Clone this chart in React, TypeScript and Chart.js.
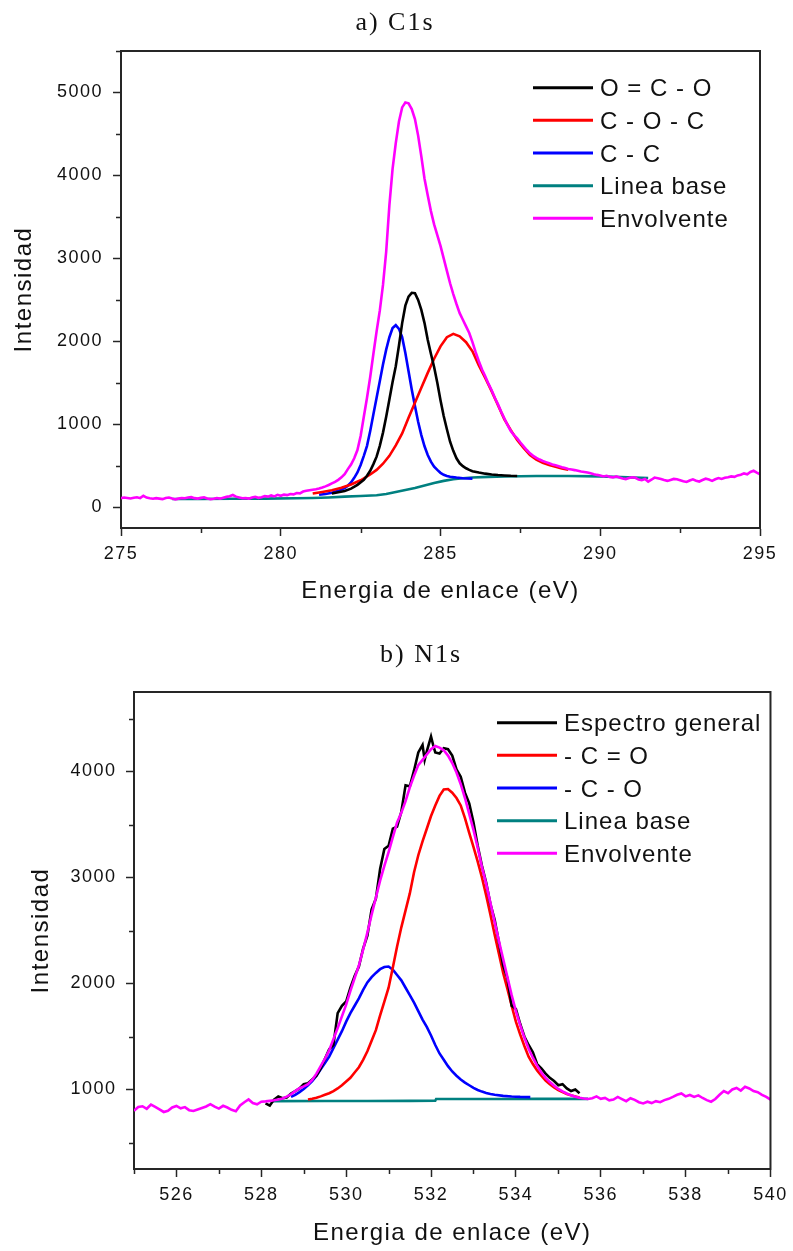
import React, { useEffect, useRef } from "react";
import { Chart, registerables } from "chart.js";

Chart.register(...registerables);

type Pt = [number, number];

// ---------- a) C1s ----------
const c1sLabels = ["O = C - O", "C - O - C", "C - C", "Linea base", "Envolvente"];
const c1sColors = ["#000000", "#ff0000", "#0000ff", "#008080", "#ff00ff"];
const c1sXTicks = [275, 280, 285, 290, 295];
const c1sXMinor = [277.5, 282.5, 287.5, 292.5];
const c1sYTicks = [0, 1000, 2000, 3000, 4000, 5000];
const c1sYMinor = [500, 1500, 2500, 3500, 4500, 5500];

const c1sOCO: Pt[] = [
  [281.6, 165], [281.8, 180], [282.0, 195], [282.2, 225], [282.4, 270], [282.6, 330], [282.7, 380],
  [282.8, 440], [282.9, 520], [283.0, 610], [283.1, 740], [283.2, 900], [283.3, 1090], [283.4, 1300],
  [283.5, 1510], [283.6, 1700], [283.7, 1950], [283.8, 2220], [283.9, 2430], [284.0, 2540], [284.1, 2585],
  [284.2, 2580], [284.3, 2500], [284.4, 2380], [284.5, 2220], [284.6, 2020], [284.7, 1850], [284.8, 1690],
  [284.9, 1500], [285.0, 1290], [285.1, 1100], [285.2, 940], [285.3, 790], [285.4, 680], [285.5, 590],
  [285.6, 530], [285.7, 495], [285.8, 470], [285.9, 450], [286.0, 435], [286.2, 418], [286.4, 405],
  [286.6, 395], [286.8, 388], [287.0, 383], [287.2, 379], [287.4, 377],
];

const c1sCOC: Pt[] = [
  [281.0, 165], [281.3, 185], [281.6, 205], [281.9, 235], [282.2, 275], [282.5, 325], [282.8, 395],
  [283.0, 450], [283.2, 525], [283.4, 620], [283.6, 745], [283.8, 890], [284.0, 1080], [284.2, 1260],
  [284.4, 1440], [284.6, 1620], [284.8, 1790], [285.0, 1940], [285.2, 2050], [285.4, 2090], [285.6, 2060],
  [285.8, 1990], [286.0, 1880], [286.2, 1710], [286.4, 1560], [286.6, 1400], [286.8, 1230], [287.0, 1060],
  [287.2, 930], [287.4, 810], [287.6, 715], [287.8, 630], [288.0, 575], [288.2, 535], [288.4, 508],
  [288.6, 488], [288.8, 468], [289.0, 452],
];

const c1sCC: Pt[] = [
  [281.2, 150], [281.4, 160], [281.6, 175], [281.8, 198], [282.0, 230], [282.1, 260], [282.2, 300],
  [282.3, 355], [282.4, 420], [282.5, 510], [282.6, 620], [282.7, 740], [282.8, 920], [282.9, 1120],
  [283.0, 1320], [283.1, 1520], [283.2, 1720], [283.3, 1900], [283.4, 2050], [283.5, 2160], [283.6, 2195],
  [283.7, 2150], [283.8, 2050], [283.9, 1860], [284.0, 1640], [284.1, 1420], [284.2, 1220], [284.3, 1030],
  [284.4, 870], [284.5, 735], [284.6, 630], [284.7, 550], [284.8, 490], [284.9, 450], [285.0, 415],
  [285.1, 392], [285.2, 378], [285.3, 368], [285.5, 358], [285.7, 350], [286.0, 345],
];

const c1sBase: Pt[] = [
  [276.6, 100], [277.5, 100], [278.5, 102], [279.5, 104], [280.5, 108], [281.0, 112], [281.5, 118],
  [282.0, 128], [282.5, 136], [283.0, 145], [283.3, 160], [283.6, 185], [283.9, 208], [284.2, 232],
  [284.5, 262], [284.8, 292], [285.1, 318], [285.4, 338], [285.7, 350], [286.0, 358], [286.5, 366],
  [287.0, 371], [287.5, 374], [288.0, 376], [289.0, 377], [290.0, 372], [291.5, 352],
];

const c1sEnv: Pt[] = [
  [275.0, 110], [275.1, 118], [275.2, 112], [275.3, 106], [275.4, 115], [275.5, 121], [275.6, 110],
  [275.7, 138], [275.8, 116], [275.9, 108], [276.0, 102], [276.1, 110], [276.2, 104], [276.3, 98],
  [276.4, 112], [276.5, 118], [276.6, 106], [276.7, 95], [276.8, 104], [276.9, 112], [277.0, 108],
  [277.1, 117], [277.2, 122], [277.3, 110], [277.4, 104], [277.5, 113], [277.6, 120], [277.7, 106],
  [277.8, 98], [277.9, 103], [278.0, 111], [278.1, 104], [278.2, 116], [278.3, 125], [278.4, 132],
  [278.5, 148], [278.6, 128], [278.7, 118], [278.8, 108], [278.9, 112], [279.0, 104], [279.1, 118],
  [279.2, 126], [279.3, 114], [279.4, 121], [279.5, 135], [279.6, 128], [279.7, 142], [279.8, 131],
  [279.9, 150], [280.0, 138], [280.1, 152], [280.2, 146], [280.3, 160], [280.4, 155], [280.5, 172],
  [280.6, 168], [280.7, 190], [280.8, 198], [280.9, 205], [281.0, 212], [281.1, 218], [281.2, 226],
  [281.3, 238], [281.4, 252], [281.5, 268], [281.6, 288], [281.7, 305], [281.8, 330], [281.9, 360],
  [282.0, 400], [282.1, 460], [282.2, 515], [282.3, 590], [282.4, 690], [282.5, 860], [282.6, 1090],
  [282.7, 1320], [282.8, 1570], [282.9, 1850], [283.0, 2120], [283.1, 2370], [283.2, 2680], [283.3, 3080],
  [283.4, 3640], [283.5, 4080], [283.6, 4390], [283.7, 4650], [283.8, 4820], [283.9, 4880], [284.0, 4870],
  [284.1, 4800], [284.2, 4680], [284.3, 4480], [284.4, 4230], [284.5, 3960], [284.6, 3760], [284.7, 3570],
  [284.8, 3410], [284.9, 3280], [285.0, 3150], [285.1, 3000], [285.2, 2850], [285.3, 2700], [285.4, 2570],
  [285.5, 2450], [285.6, 2340], [285.7, 2260], [285.8, 2180], [285.9, 2100], [286.0, 1990], [286.1, 1870],
  [286.2, 1760], [286.3, 1660], [286.4, 1580], [286.5, 1490], [286.6, 1410], [286.7, 1320], [286.8, 1240],
  [286.9, 1150], [287.0, 1070], [287.1, 990], [287.2, 920], [287.3, 870], [287.4, 830], [287.5, 780],
  [287.6, 735], [287.7, 690], [287.8, 650], [287.9, 620], [288.0, 595], [288.1, 575], [288.2, 558],
  [288.3, 544], [288.4, 530], [288.5, 516], [288.6, 505], [288.7, 494], [288.8, 482], [288.9, 472],
  [289.0, 462], [289.1, 455], [289.2, 448], [289.3, 440], [289.4, 432], [289.5, 426], [289.6, 418],
  [289.7, 410], [289.8, 398], [289.9, 390], [290.0, 384], [290.1, 372], [290.2, 380], [290.3, 366],
  [290.4, 360], [290.5, 372], [290.6, 358], [290.7, 346], [290.8, 340], [290.9, 352], [291.0, 362],
  [291.1, 355], [291.2, 334], [291.3, 326], [291.4, 340], [291.5, 308], [291.6, 332], [291.7, 358],
  [291.8, 350], [291.9, 340], [292.0, 328], [292.1, 318], [292.2, 330], [292.3, 342], [292.4, 338],
  [292.5, 326], [292.6, 314], [292.7, 305], [292.8, 322], [292.9, 336], [293.0, 320], [293.1, 310],
  [293.2, 328], [293.3, 344], [293.4, 334], [293.5, 318], [293.6, 338], [293.7, 352], [293.8, 342],
  [293.9, 355], [294.0, 362], [294.1, 372], [294.2, 366], [294.3, 384], [294.4, 392], [294.5, 408],
  [294.6, 398], [294.7, 425], [294.8, 440], [294.9, 418], [295.0, 398],
];

// ---------- b) N1s ----------
const n1sLabels = ["Espectro general", "- C = O", "- C - O", "Linea base", "Envolvente"];
const n1sColors = ["#000000", "#ff0000", "#0000ff", "#008080", "#ff00ff"];
const n1sXTicks = [526, 528, 530, 532, 534, 536, 538, 540];
const n1sXMinor = [525, 527, 529, 531, 533, 535, 537, 539];
const n1sYTicks = [1000, 2000, 3000, 4000];
const n1sYMinor = [500, 1500, 2500, 3500, 4500];

const n1sSpectrum: Pt[] = [
  [528.1, 870], [528.2, 848], [528.3, 905], [528.4, 935], [528.5, 918], [528.6, 925], [528.7, 962],
  [528.8, 985], [528.9, 1010], [529.0, 1050], [529.1, 1060], [529.2, 1095], [529.3, 1130], [529.4, 1200],
  [529.5, 1290], [529.6, 1380], [529.7, 1420], [529.8, 1720], [529.9, 1790], [530.0, 1830], [530.1, 1960],
  [530.2, 2070], [530.3, 2160], [530.4, 2330], [530.5, 2450], [530.6, 2700], [530.7, 2800], [530.8, 3080],
  [530.9, 3270], [531.0, 3300], [531.1, 3460], [531.2, 3480], [531.3, 3620], [531.4, 3870], [531.5, 3860],
  [531.6, 4010], [531.7, 4180], [531.8, 4250], [531.85, 4110], [531.9, 4190], [532.0, 4330], [532.05, 4250],
  [532.1, 4180], [532.2, 4170], [532.3, 4220], [532.4, 4210], [532.5, 4150], [532.6, 4020], [532.7, 3950],
  [532.8, 3800], [532.9, 3700], [533.0, 3520], [533.1, 3300], [533.2, 3110], [533.3, 2950], [533.4, 2750],
  [533.5, 2600], [533.6, 2390], [533.7, 2170], [533.8, 2050], [533.9, 1790], [534.0, 1760], [534.1, 1620],
  [534.2, 1500], [534.3, 1420], [534.4, 1350], [534.5, 1240], [534.6, 1200], [534.7, 1150], [534.8, 1110],
  [534.9, 1080], [535.0, 1040], [535.1, 1050], [535.2, 1010], [535.3, 985], [535.4, 1000], [535.5, 965],
];

const n1sCdO: Pt[] = [
  [529.1, 905], [529.2, 912], [529.3, 922], [529.4, 935], [529.5, 950], [529.6, 965], [529.7, 985],
  [529.8, 1010], [529.9, 1040], [530.0, 1075], [530.1, 1110], [530.2, 1160], [530.3, 1210], [530.4, 1280],
  [530.5, 1360], [530.6, 1460], [530.7, 1560], [530.8, 1700], [530.9, 1830], [531.0, 1960], [531.1, 2150],
  [531.2, 2350], [531.3, 2530], [531.4, 2690], [531.5, 2850], [531.6, 3050], [531.7, 3210], [531.8, 3340],
  [531.9, 3460], [532.0, 3580], [532.1, 3680], [532.2, 3770], [532.3, 3830], [532.4, 3835], [532.5, 3800],
  [532.6, 3750], [532.7, 3680], [532.8, 3560], [532.9, 3420], [533.0, 3290], [533.1, 3150], [533.2, 3000],
  [533.3, 2830], [533.4, 2650], [533.5, 2460], [533.6, 2280], [533.7, 2100], [533.8, 1950], [533.9, 1790],
  [534.0, 1640], [534.1, 1520], [534.2, 1410], [534.3, 1310], [534.4, 1240], [534.5, 1180], [534.6, 1130],
  [534.7, 1085], [534.8, 1050], [534.9, 1020], [535.0, 995], [535.1, 975], [535.2, 958], [535.3, 945],
  [535.4, 935], [535.5, 925],
];

const n1sCO: Pt[] = [
  [528.7, 930], [528.8, 950], [528.9, 975], [529.0, 1005], [529.1, 1040], [529.2, 1080], [529.3, 1130],
  [529.4, 1190], [529.5, 1250], [529.6, 1310], [529.7, 1390], [529.8, 1470], [529.9, 1550], [530.0, 1640],
  [530.1, 1720], [530.2, 1790], [530.3, 1860], [530.4, 1940], [530.5, 2010], [530.6, 2060], [530.7, 2100],
  [530.8, 2135], [530.9, 2155], [531.0, 2160], [531.1, 2130], [531.2, 2080], [531.3, 2030], [531.4, 1960],
  [531.5, 1890], [531.6, 1820], [531.7, 1740], [531.8, 1660], [531.9, 1590], [532.0, 1510], [532.1, 1420],
  [532.2, 1340], [532.3, 1280], [532.4, 1220], [532.5, 1170], [532.6, 1130], [532.7, 1095], [532.8, 1065],
  [532.9, 1040], [533.0, 1015], [533.1, 995], [533.2, 980], [533.3, 968], [533.4, 958], [533.5, 950],
  [533.7, 940], [533.9, 934], [534.1, 930], [534.34, 928],
];

const n1sBase: Pt[] = [
  [528.27, 890], [529.5, 891], [530.5, 892], [531.5, 893], [532.1, 894], [532.12, 910], [533.5, 911],
  [534.5, 912], [535.7, 912],
];

const n1sEnv: Pt[] = [
  [525.0, 800], [525.1, 835], [525.2, 842], [525.3, 818], [525.4, 858], [525.5, 836], [525.6, 812],
  [525.7, 788], [525.8, 800], [525.9, 830], [526.0, 845], [526.1, 822], [526.2, 834], [526.3, 805],
  [526.4, 798], [526.5, 812], [526.6, 826], [526.7, 840], [526.8, 862], [526.9, 838], [527.0, 820],
  [527.1, 846], [527.2, 830], [527.3, 808], [527.4, 795], [527.5, 850], [527.6, 880], [527.7, 906],
  [527.8, 872], [527.9, 860], [528.0, 885], [528.1, 888], [528.2, 893], [528.3, 898], [528.4, 905],
  [528.5, 915], [528.6, 932], [528.7, 955], [528.8, 985], [528.9, 1012], [529.0, 1030], [529.1, 1050],
  [529.2, 1090], [529.3, 1150], [529.4, 1220], [529.5, 1290], [529.6, 1370], [529.7, 1475], [529.8, 1580],
  [529.9, 1690], [530.0, 1800], [530.1, 1930], [530.2, 2050], [530.3, 2170], [530.4, 2320], [530.5, 2480],
  [530.6, 2650], [530.7, 2810], [530.8, 2970], [530.9, 3110], [531.0, 3240], [531.1, 3380], [531.2, 3520],
  [531.3, 3610], [531.4, 3720], [531.5, 3850], [531.6, 3960], [531.7, 4060], [531.8, 4110], [531.9, 4160],
  [532.0, 4210], [532.1, 4240], [532.2, 4225], [532.3, 4200], [532.4, 4150], [532.5, 4080], [532.6, 3990],
  [532.7, 3880], [532.8, 3750], [532.9, 3600], [533.0, 3450], [533.1, 3280], [533.2, 3100], [533.3, 2940],
  [533.4, 2760], [533.5, 2580], [533.6, 2400], [533.7, 2230], [533.8, 2060], [533.9, 1890], [534.0, 1740],
  [534.1, 1610], [534.2, 1490], [534.3, 1385], [534.4, 1300], [534.5, 1225], [534.6, 1160], [534.7, 1110],
  [534.8, 1070], [534.9, 1035], [535.0, 1005], [535.1, 982], [535.2, 962], [535.3, 945], [535.4, 932],
  [535.5, 922], [535.6, 915], [535.7, 910], [535.8, 918], [535.9, 935], [536.0, 912], [536.1, 920],
  [536.2, 898], [536.3, 905], [536.4, 930], [536.5, 910], [536.6, 890], [536.7, 918], [536.8, 902],
  [536.9, 880], [537.0, 868], [537.1, 885], [537.2, 872], [537.3, 890], [537.4, 880], [537.5, 900],
  [537.6, 912], [537.7, 930], [537.8, 950], [537.9, 962], [538.0, 935], [538.1, 948], [538.2, 930],
  [538.3, 945], [538.4, 920], [538.5, 900], [538.6, 885], [538.7, 910], [538.8, 950], [538.9, 985],
  [539.0, 965], [539.1, 1000], [539.2, 1015], [539.3, 990], [539.4, 1025], [539.5, 1010], [539.6, 985],
  [539.7, 975], [539.8, 950], [539.9, 930], [540.0, 905],
];

const SANS = "'Liberation Sans', Arial, Helvetica, sans-serif";
const SERIF = "'Liberation Serif', 'Times New Roman', serif";
const AXIS = "#262626";
const TEXT = "#111111";

interface Series { label: string; color: string; data: Pt[]; order: number; }
interface PanelSpec {
  top: number; width: number; height: number;
  area: { left: number; top: number; right: number; bottom: number };
  title: string; titleX: number; titleY: number;
  xTitle: string; yTitle: string;
  xMin: number; xMax: number; yMin: number; yMax: number;
  xTicks: number[]; xMinor: number[]; yTicks: number[]; yMinor: number[];
  series: Series[];
  legendX: number; legendY: number; legendGap: number;
  yTitlePad: number; xTitlePad: number; xTickPad: number; yTickPad: number;
}

const ORDERS = [1, 2, 3, 4, 0];

const specA: PanelSpec = {
  top: 0, width: 793, height: 625,
  area: { left: 121, top: 51, right: 760, bottom: 528 },
  title: "a) C1s", titleX: 395, titleY: 29.5,
  xTitle: "Energia de enlace (eV)", yTitle: "Intensidad",
  xMin: 275, xMax: 295, yMin: -250, yMax: 5500,
  xTicks: c1sXTicks, xMinor: c1sXMinor, yTicks: c1sYTicks, yMinor: c1sYMinor,
  series: [c1sOCO, c1sCOC, c1sCC, c1sBase, c1sEnv].map((d, i) => ({
    label: c1sLabels[i], color: c1sColors[i], data: d, order: ORDERS[i],
  })),
  legendX: 533, legendY: 87.7, legendGap: 32.65,
  yTitlePad: 10.3, xTitlePad: 18.9, xTickPad: 7.5, yTickPad: 10,
};

const specB: PanelSpec = {
  top: 625, width: 793, height: 626,
  area: { left: 134, top: 67, right: 773, bottom: 544 },
  title: "b) N1s", titleX: 421, titleY: 36.7,
  xTitle: "Energia de enlace (eV)", yTitle: "Intensidad",
  xMin: 525, xMax: 540, yMin: 250, yMax: 4750,
  xTicks: n1sXTicks, xMinor: n1sXMinor, yTicks: n1sYTicks, yMinor: n1sYMinor,
  series: [n1sSpectrum, n1sCdO, n1sCO, n1sBase, n1sEnv].map((d, i) => ({
    label: n1sLabels[i], color: n1sColors[i], data: d, order: ORDERS[i],
  })),
  legendX: 497, legendY: 97.7, legendGap: 32.65,
  yTitlePad: 27.3, xTitlePad: 3.2, xTickPad: 7.5, yTickPad: 9.5,
};

function Panel({ spec }: { spec: PanelSpec }) {
  const ref = useRef<HTMLCanvasElement>(null);
  useEffect(() => {
    const canvas = ref.current;
    if (!canvas) return;
    const s = spec;
    const decor = {
      id: "decor",
      beforeDraw(chart: any) {
        (chart.ctx as any).letterSpacing = "1.5px";
      },
      afterDraw(chart: any) {
        const ctx = chart.ctx as CanvasRenderingContext2D;
        const a = chart.chartArea;
        const xs = chart.scales.x;
        const ys = chart.scales.y;
        ctx.save();
        // frame: top and right
        ctx.strokeStyle = AXIS;
        ctx.lineWidth = 2;
        ctx.beginPath();
        ctx.moveTo(a.left - 1, a.top);
        ctx.lineTo(a.right, a.top);
        ctx.lineTo(a.right, a.bottom + 1);
        ctx.stroke();
        // minor ticks
        ctx.lineWidth = 1.5;
        ctx.beginPath();
        for (const v of s.xMinor) {
          const px = Math.round(xs.getPixelForValue(v)) + 0.5;
          ctx.moveTo(px, a.bottom);
          ctx.lineTo(px, a.bottom + 5);
        }
        for (const v of s.yMinor) {
          const py = Math.round(ys.getPixelForValue(v)) + 0.5;
          ctx.moveTo(a.left, py);
          ctx.lineTo(a.left - 5, py);
        }
        ctx.stroke();
        // title
        (ctx as any).letterSpacing = "2px";
        ctx.fillStyle = TEXT;
        ctx.font = `26px ${SERIF}`;
        ctx.textAlign = "center";
        ctx.textBaseline = "alphabetic";
        ctx.fillText(s.title, s.titleX, s.titleY);
        // legend
        (ctx as any).letterSpacing = "1px";
        ctx.font = `24px ${SANS}`;
        ctx.textAlign = "left";
        ctx.textBaseline = "middle";
        chart.data.datasets.forEach((ds: any, i: number) => {
          const y = s.legendY + i * s.legendGap;
          ctx.strokeStyle = ds.borderColor;
          ctx.lineWidth = 3;
          ctx.beginPath();
          ctx.moveTo(s.legendX, y);
          ctx.lineTo(s.legendX + 60, y);
          ctx.stroke();
          ctx.fillStyle = TEXT;
          ctx.fillText(ds.label, s.legendX + 67, y + 2);
        });
        ctx.restore();
      },
    };

    const chart = new Chart(canvas, {
      type: "line",
      data: {
        datasets: s.series.map((ser) => ({
          label: ser.label,
          data: ser.data.map(([x, y]) => ({ x, y })),
          borderColor: ser.color,
          backgroundColor: ser.color,
          borderWidth: 2.6,
          pointRadius: 0,
          pointHoverRadius: 0,
          tension: 0,
          fill: false,
          order: ser.order,
        })),
      },
      options: {
        responsive: false,
        animation: false,
        devicePixelRatio: 1,
        events: [],
        layout: {
          padding: { left: 0, top: s.area.top, right: s.width - s.area.right, bottom: 0 },
        },
        plugins: {
          legend: { display: false },
          tooltip: { enabled: false },
          title: { display: false },
        },
        scales: {
          x: {
            type: "linear",
            min: s.xMin,
            max: s.xMax,
            afterBuildTicks: (sc: any) => {
              sc.ticks = s.xTicks.map((v) => ({ value: v }));
            },
            afterFit: (sc: any) => {
              sc.height = s.height - s.area.bottom;
            },
            ticks: {
              autoSkip: false,
              maxRotation: 0,
              minRotation: 0,
              padding: s.xTickPad,
              color: TEXT,
              font: { family: SANS, size: 18 },
              callback: (v: any) => String(v),
            },
            grid: {
              drawOnChartArea: false,
              drawTicks: true,
              tickLength: 8,
              tickWidth: 1.5,
              tickColor: AXIS,
            },
            border: { display: true, color: AXIS, width: 2 },
            title: {
              display: true,
              text: s.xTitle,
              color: TEXT,
              font: { family: SANS, size: 24 },
              padding: { top: 0, bottom: s.xTitlePad },
            },
          },
          y: {
            type: "linear",
            min: s.yMin,
            max: s.yMax,
            afterBuildTicks: (sc: any) => {
              sc.ticks = s.yTicks.map((v) => ({ value: v }));
            },
            afterFit: (sc: any) => {
              sc.width = s.area.left;
            },
            ticks: {
              padding: s.yTickPad,
              color: TEXT,
              font: { family: SANS, size: 18 },
              callback: (v: any) => String(v),
            },
            grid: {
              drawOnChartArea: false,
              drawTicks: true,
              tickLength: 8,
              tickWidth: 1.5,
              tickColor: AXIS,
            },
            border: { display: true, color: AXIS, width: 2 },
            title: {
              display: true,
              text: s.yTitle,
              color: TEXT,
              font: { family: SANS, size: 24 },
              padding: { top: s.yTitlePad, bottom: 0 },
            },
          },
        },
      },
      plugins: [decor],
    } as any);
    return () => chart.destroy();
  }, [spec]);
  return (
    <canvas
      ref={ref}
      width={spec.width}
      height={spec.height}
      style={{ position: "absolute", left: 0, top: spec.top, width: spec.width, height: spec.height }}
    />
  );
}

export default function App() {
  return (
    <div
      style={{
        position: "absolute",
        left: 0,
        top: 0,
        width: 793,
        height: 1251,
        background: "#ffffff",
        overflow: "hidden",
      }}
    >
      <Panel spec={specA} />
      <Panel spec={specB} />
    </div>
  );
}
